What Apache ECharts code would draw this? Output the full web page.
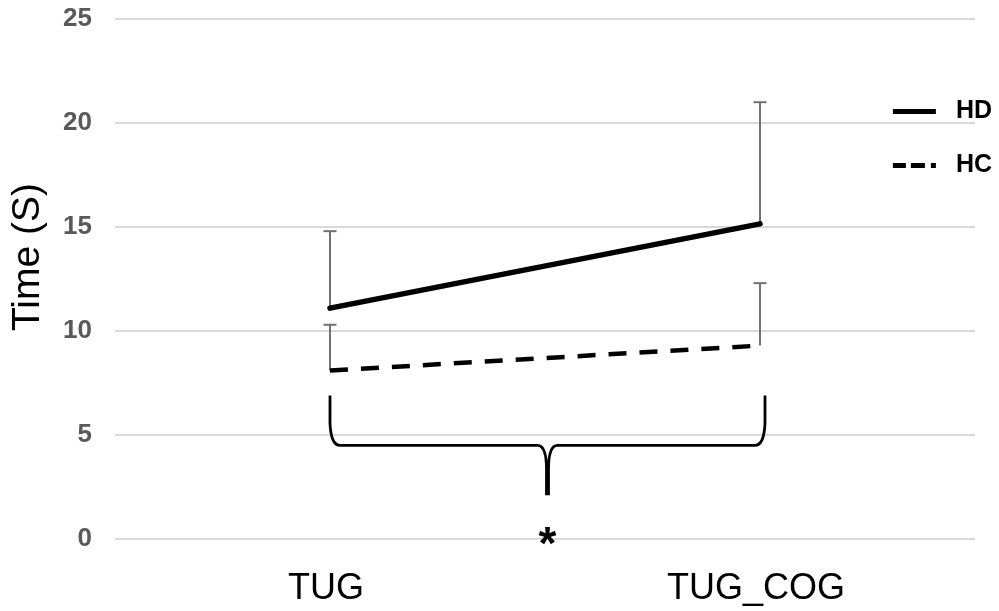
<!DOCTYPE html>
<html>
<head>
<meta charset="utf-8">
<script src="https://cdn.jsdelivr.net/npm/echarts@6/dist/echarts.min.js"></script>
<style>
html,body{margin:0;padding:0;background:#fff;}
#main{width:999px;height:611px;}
</style>
</head>
<body>
<div id="main"></div>
<script>
var categories = ['TUG', 'TUG_COG'];
var hdMean = [11.1, 15.15];
var hdUpper = [14.8, 21.0];
var hcMean = [8.1, 9.3];
var hcUpper = [10.3, 12.3];
var yTicks = [0, 5, 10, 15, 20, 25];
// significance brace: [from category, to category, top y, bar y, tip y, star y]
var braceData = [[0, 1, 6.9, 4.5, 2.1, 0]];
var braceLabel = '*';

var chart = echarts.init(document.getElementById('main'));

function errorBars(name, upper, mean) {
  return {
    type: 'custom',
    name: name + '_err',
    z: 1,
    silent: true,
    data: categories.map(function (c, i) { return [i, mean[i], upper[i]]; }),
    renderItem: function (params, api) {
      var lo = api.coord([api.value(0), api.value(1)]);
      var hi = api.coord([api.value(0), api.value(2)]);
      var cap = 6.5;
      return {
        type: 'group',
        children: [
          { type: 'line', shape: { x1: lo[0], y1: lo[1], x2: hi[0], y2: hi[1] }, style: { stroke: '#707070', lineWidth: 2 } },
          { type: 'line', shape: { x1: hi[0] - cap, y1: hi[1], x2: hi[0] + cap, y2: hi[1] }, style: { stroke: '#707070', lineWidth: 2 } }
        ]
      };
    }
  };
}

var braceSeries = {
  type: 'custom',
  name: 'brace',
  silent: true,
  z: 4,
  data: braceData,
  renderItem: function (params, api) {
    var a = api.coord([api.value(0), api.value(2)]);
    var b = api.coord([api.value(1), api.value(2)]);
    var yMid = api.coord([api.value(0), api.value(3)])[1];
    var yTip = api.coord([api.value(0), api.value(4)])[1];
    var yStar = api.coord([api.value(0), api.value(5)])[1];
    var x0 = a[0], x1 = b[0] + 5, yTop = a[1];
    var xm = (x0 + x1) / 2;
    var r = 10;
    var d = 'M' + x0 + ' ' + yTop +
      ' L' + x0 + ' ' + (yMid - 22) +
      ' Q' + (x0 + 1) + ' ' + yMid + ' ' + (x0 + r) + ' ' + yMid +
      ' L' + (xm - 10) + ' ' + yMid +
      ' Q' + (xm - 1) + ' ' + yMid + ' ' + (xm - 1) + ' ' + (yMid + 24) +
      ' L' + (xm - 1) + ' ' + yTip +
      ' M' + (xm + 1) + ' ' + yTip +
      ' L' + (xm + 1) + ' ' + (yMid + 24) +
      ' Q' + (xm + 1) + ' ' + yMid + ' ' + (xm + 10) + ' ' + yMid +
      ' L' + (x1 - r) + ' ' + yMid +
      ' Q' + (x1 - 1) + ' ' + yMid + ' ' + x1 + ' ' + (yMid - 22) +
      ' L' + x1 + ' ' + yTop;
    return {
      type: 'group',
      children: [
        { type: 'path', shape: { pathData: d }, style: { stroke: '#000', lineWidth: 2.8, fill: null } },
        { type: 'text', style: { text: braceLabel, x: xm, y: yStar + 7, align: 'center', verticalAlign: 'middle', fontFamily: 'Liberation Sans, Arial', fontWeight: 'bold', fontSize: 46, fill: '#000' } }
      ]
    };
  }
};

var option = {
  animation: false,
  grid: { left: 115, right: 24, top: 19, bottom: 72, containLabel: false },
  legend: {
    orient: 'vertical',
    right: 2,
    top: 94,
    itemWidth: 43,
    itemHeight: 5,
    itemGap: 29,
    selectedMode: false,
    data: [
      { name: 'HD', icon: 'path://M0 0 L43 0 L43 5 L0 5 Z' },
      { name: 'HC', icon: 'path://M0 0 L13 0 L13 5 L0 5 Z M18 0 L32 0 L32 5 L18 5 Z M38 0 L43 0 L43 5 L38 5 Z' }
    ],
    itemStyle: { color: '#000', borderWidth: 0 },
    textStyle: { fontFamily: 'Liberation Sans, Arial', fontWeight: 'bold', fontSize: 25, color: '#000', padding: [0, 0, 0, 15] }
  },
  xAxis: {
    type: 'category',
    data: categories,
    boundaryGap: true,
    axisLine: { show: false },
    axisTick: { show: false },
    axisLabel: { fontFamily: 'Liberation Sans, Arial', fontSize: 36, color: '#000', margin: 32, padding: [0, 8, 0, 0] }
  },
  yAxis: {
    type: 'value',
    min: yTicks[0],
    max: yTicks[yTicks.length - 1],
    interval: yTicks[1] - yTicks[0],
    name: 'Time (S)',
    nameLocation: 'middle',
    nameGap: 67,
    nameTextStyle: { fontFamily: 'Liberation Sans, Arial', fontSize: 39, color: '#000', padding: [0, 0, 0, 44] },
    axisLine: { show: false },
    axisTick: { show: false },
    axisLabel: { fontFamily: 'Liberation Sans, Arial', fontWeight: 'bold', fontSize: 26, color: '#595959', margin: 23 },
    splitLine: { lineStyle: { color: '#d9d9d9', width: 2 } }
  },
  series: [
    errorBars('HD', hdUpper, hdMean),
    errorBars('HC', hcUpper, hcMean),
    {
      name: 'HD', type: 'line', data: hdMean, symbol: 'none', z: 3,
      lineStyle: { color: '#000', width: 5.5, cap: 'round' },
      itemStyle: { color: '#000' }
    },
    {
      name: 'HC', type: 'line', data: hcMean, symbol: 'none', z: 3,
      lineStyle: { color: '#000', width: 4.5, type: [18, 13], cap: 'butt' },
      itemStyle: { color: '#000' }
    },
    braceSeries
  ]
};
chart.setOption(option);
</script>
</body>
</html>
